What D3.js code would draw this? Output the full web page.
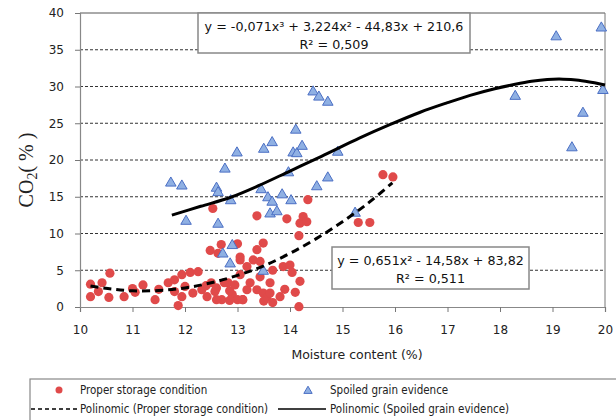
<!DOCTYPE html>
<html><head><meta charset="utf-8">
<script src="https://cdn.jsdelivr.net/npm/d3@7/dist/d3.min.js"></script>
<style>body{margin:0;background:#fff}svg{display:block}</style>
</head><body>
<svg id="c" width="616" height="420"></svg>
<script>
// ---- data ----
const properX = [10.2,10.2,10.35,10.42,10.57,10.55,10.84,11.0,11.05,11.2,11.43,11.5,11.68,11.8,11.8,11.87,11.94,11.94,12.0,12.1,12.15,12.25,12.32,12.42,12.48,12.57,12.63,12.69,12.7,12.82,12.9,13.0,13.0,12.53,12.5,12.6,12.75,12.85,12.95,12.6,12.85,13.05,13.05,13.1,13.18,13.3,13.37,13.43,13.49,13.1,13.18,13.24,13.37,13.43,13.49,13.56,13.62,13.67,13.62,13.67,13.81,13.87,14.0,14.04,14.19,14.17,14.17,14.19,14.25,14.32,14.34,13.37,13.94,15.3,15.52,15.77,15.96,13.9,14.1,13.05,13.5,12.4];
const properY = [1.4,3.1,2.1,3.3,4.6,1.3,1.4,2.5,2.0,3.0,1.0,2.4,3.3,3.7,2.1,0.2,4.4,1.4,2.8,4.7,1.9,4.8,2.35,1.4,7.7,2.1,7.3,8.5,1.0,3.3,1.7,8.6,1.0,13.4,3.3,2.6,3.3,2.2,3.0,1.0,0.9,4.4,6.8,1.0,5.5,6.4,7.8,6.2,8.7,1.0,2.35,3.3,2.35,4.1,1.9,1.3,1.9,5.0,3.3,0.6,1.4,5.5,5.7,4.7,3.5,0.05,9.7,11.4,12.3,11.6,14.6,12.4,12.0,11.5,11.5,18.0,17.7,2.4,2.0,6.4,0.8,2.9];
const spoiledX = [11.73,11.94,12.02,12.6,12.63,12.63,12.72,12.76,12.86,12.87,12.9,12.99,13.45,13.49,13.5,13.58,13.62,13.66,13.66,13.75,13.85,13.97,14.02,14.06,14.11,14.13,14.23,14.44,14.51,14.55,14.72,14.72,14.91,15.24,18.29,19.07,19.37,19.58,19.93,19.96];
const spoiledY = [17.0,16.6,11.8,16.3,15.7,11.4,7.35,18.9,6.0,14.6,8.5,21.1,16.1,5.0,21.6,15.0,12.8,22.5,14.4,13.1,15.4,18.4,14.6,21.1,24.2,21.0,22.0,29.4,16.5,28.7,28.0,17.7,21.2,12.9,28.8,36.9,21.8,26.5,38.1,29.6];
// trend lines
const properFitX = [10.2,10.6,11.0,11.5,12.0,12.5,13.0,13.5,14.0,14.5,15.0,15.5,15.95];
const properFitY = [2.85,2.45,2.2,2.25,2.6,3.3,4.3,5.6,7.3,9.3,11.6,14.2,16.9];
const spoiledFitX = [11.75,12.3,12.86,13.4,14.0,14.6,15.33,15.9,16.48,17.0,17.43,17.9,18.29,18.6,18.9,19.2,19.5,19.8,20.0];
const spoiledFitY = [12.5,13.7,14.9,16.5,18.5,20.5,23.0,24.8,26.5,27.8,28.8,29.7,30.3,30.7,30.95,31.0,30.85,30.5,30.2];
const xTicks = [10,11,12,13,14,15,16,17,18,19,20];
const yTicks = [0,5,10,15,20,25,30,35,40];
const eq1 = ["y = -0,071x³ + 3,224x² - 44,83x + 210,6", "R² = 0,509"];
const eq2 = ["y = 0,651x² - 14,58x + 83,82", "R² = 0,511"];
const legendLabels = ["Proper storage condition","Spoiled grain evidence","Polinomic (Proper storage condition)","Polinomic (Spoiled grain evidence)"];

const svg = d3.select("#c");
const F = "'DejaVu Sans', sans-serif";
const FL = "'DejaVu Sans Condensed', 'DejaVu Sans', sans-serif";
const x = d3.scaleLinear().domain([10,20]).range([80,605]);
const y = d3.scaleLinear().domain([0,40]).range([307,13]);
const RED = "#e04a4a", TRI = "#8fb0e3", TRIS = "#4b6fc4";

// grid
svg.append("g").selectAll("line").data(yTicks.filter(d=>d>0 && d<40)).join("line")
  .attr("x1",x(10)).attr("x2",x(20)).attr("y1",d=>y(d)).attr("y2",d=>y(d))
  .attr("stroke","#333").attr("stroke-width",1).attr("stroke-dasharray","3,2");
// frame top/right
svg.append("line").attr("x1",x(10)).attr("x2",x(20)).attr("y1",y(40)).attr("y2",y(40)).attr("stroke","#555");
svg.append("line").attr("x1",x(20)).attr("x2",x(20)).attr("y1",y(40)).attr("y2",y(0)).attr("stroke","#777");

// axes
const xa = svg.append("g").attr("transform",`translate(0,${y(0)})`)
  .call(d3.axisBottom(x).tickValues(xTicks).tickSize(5).tickPadding(13).tickFormat(d3.format("d")));
const ya = svg.append("g").attr("transform",`translate(${x(10)},0)`)
  .call(d3.axisLeft(y).tickValues(yTicks).tickSize(5).tickPadding(11).tickFormat(d3.format("d")));
[xa,ya].forEach(a=>{
  a.select(".domain").attr("stroke","#888").attr("stroke-width",1.2);
  a.selectAll(".tick line").attr("stroke","#777");
  a.selectAll("text").attr("font-family",F).attr("font-size",12).attr("fill","#222");
});

// points
svg.append("g").selectAll("circle").data(properX.map((v,i)=>[v,properY[i]])).join("circle")
  .attr("cx",d=>x(d[0])).attr("cy",d=>y(d[1])).attr("r",4.6).attr("fill",RED);
const tri = d3.symbol().type(d3.symbolTriangle).size(48);
svg.append("g").selectAll("path").data(spoiledX.map((v,i)=>[v,spoiledY[i]])).join("path")
  .attr("d",tri).attr("transform",d=>`translate(${x(d[0])},${y(d[1])+1})`)
  .attr("fill",TRI).attr("stroke",TRIS).attr("stroke-width",1);

// fits
const line = d3.line().x(d=>x(d[0])).y(d=>y(d[1])).curve(d3.curveCatmullRom);
svg.append("path").datum(properFitX.map((v,i)=>[v,properFitY[i]])).attr("d",line)
  .attr("fill","none").attr("stroke","#000").attr("stroke-width",3).attr("stroke-dasharray","8,5");
svg.append("path").datum(spoiledFitX.map((v,i)=>[v,spoiledFitY[i]])).attr("d",line)
  .attr("fill","none").attr("stroke","#000").attr("stroke-width",3);

// equation boxes
function eqBox(x0,y0,w,h,lines){
  const g = svg.append("g");
  g.append("rect").attr("x",x0).attr("y",y0).attr("width",w).attr("height",h)
    .attr("fill","#fff").attr("stroke","#888").attr("stroke-width",1.5);
  lines.forEach((t,i)=>g.append("text").attr("x",x0+w/2).attr("y",y0+18+i*18)
    .attr("text-anchor","middle").attr("font-family",F).attr("font-size",12.7).attr("fill","#111").text(t));
}
eqBox(198,13,272,40,eq1);
eqBox(332,247,197,42,eq2);

// axis titles
svg.append("text").attr("x",357).attr("y",359).attr("text-anchor","middle")
  .attr("font-family",F).attr("font-size",12.5).attr("fill","#222").text("Moisture content (%)");
const yl = svg.append("text").attr("transform","translate(33,170) rotate(-90)").attr("text-anchor","middle")
  .attr("font-family","'Liberation Serif', serif").attr("font-size",20).attr("fill","#222");
yl.append("tspan").text("CO");
yl.append("tspan").attr("font-size",14).attr("dy",4).text("2");
yl.append("tspan").attr("dy",-4).text("( % )");

// legend
const lg = svg.append("g");
lg.append("rect").attr("x",30).attr("y",379).attr("width",620).attr("height",60)
  .attr("fill","#fff").attr("stroke","#888").attr("stroke-width",1.2);
const tx = [80,330], rows=[390,409];
lg.append("circle").attr("cx",59).attr("cy",rows[0]).attr("r",3.5).attr("fill",RED);
lg.append("path").attr("d",d3.symbol().type(d3.symbolTriangle).size(30))
  .attr("transform",`translate(308,${rows[0]+1})`).attr("fill",TRI).attr("stroke",TRIS);
lg.append("line").attr("x1",31).attr("x2",77).attr("y1",rows[1]).attr("y2",rows[1])
  .attr("stroke","#000").attr("stroke-width",1.5).attr("stroke-dasharray","4,3");
lg.append("line").attr("x1",278).attr("x2",326).attr("y1",rows[1]).attr("y2",rows[1])
  .attr("stroke","#000").attr("stroke-width",1.5);
legendLabels.forEach((t,i)=>lg.append("text").attr("x",tx[i%2]).attr("y",rows[Math.floor(i/2)]+4)
  .attr("font-family",FL).attr("font-size",11.5).attr("fill","#222").text(t));
</script>
</body></html>
